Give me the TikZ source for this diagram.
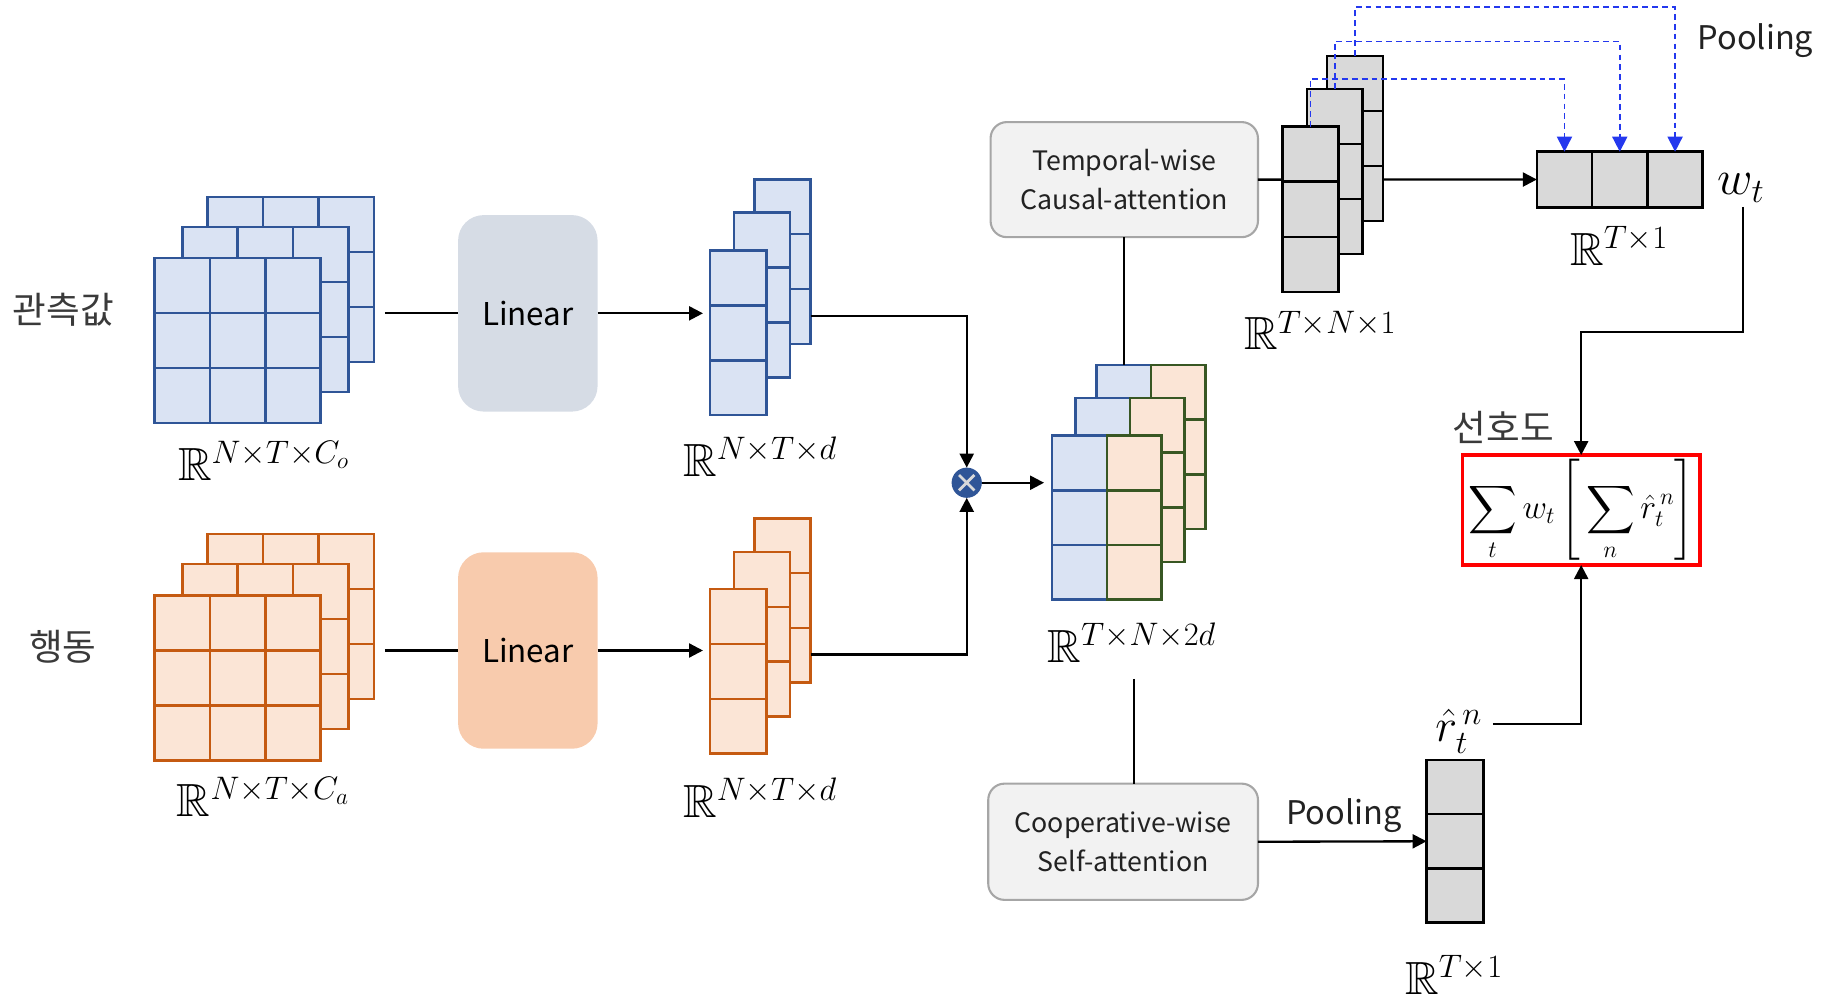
\RequirePackage{fix-cm}
\documentclass[tikz,border=0pt]{standalone}
\usepackage{amsmath,amssymb}
\usepackage{fontspec}
\newfontfamily\kr{Noto Sans CJK KR}
\usetikzlibrary{arrows.meta,calc}

\definecolor{bstroke}{HTML}{2F5597}
\definecolor{bfill}{HTML}{DAE3F3}
\definecolor{ostroke}{HTML}{C55A11}
\definecolor{ofill}{HTML}{FBE5D6}
\definecolor{gstroke}{HTML}{385723}
\definecolor{cellgray}{HTML}{D9D9D9}
\definecolor{linblue}{HTML}{D6DCE5}
\definecolor{linorange}{HTML}{F8CBAD}
\definecolor{attfill}{HTML}{F2F2F2}
\definecolor{attline}{HTML}{A6A6A6}
\definecolor{poolblue}{HTML}{2438EE}
\definecolor{txt}{HTML}{222222}
\definecolor{krtxt}{HTML}{3A3A3A}

% one layer of a tensor drawn as a grid of cells:
% name, stroke, fill, cx, cy, width, height, columns, rows
\newcommand{\stacklayer}[9]{%
  \node[layer, draw=#2, fill=#3, minimum width=#6pt, minimum height=#7pt] (#1) at (#4,#5) {};
  \foreach \k in {1,...,#8}{\ifnum\k<#8\relax
    \draw[cellline, draw=#2] ($(#1.north west)!\k/#8!(#1.north east)$) -- ($(#1.south west)!\k/#8!(#1.south east)$);\fi}
  \foreach \k in {1,...,#9}{\ifnum\k<#9\relax
    \draw[cellline, draw=#2] ($(#1.north west)!\k/#9!(#1.south west)$) -- ($(#1.north east)!\k/#9!(#1.south east)$);\fi}
}

\begin{document}
\begin{tikzpicture}[x=1pt,y=-1pt,
  layer/.style={rectangle, inner sep=0pt, outer sep=0pt, line width=2.2pt},
  cellline/.style={line width=2.2pt},
  wire/.style={line width=2pt, draw=black},
  arrow/.style={wire, -{Triangle[length=12pt,width=12pt]}},
  dashwire/.style={draw=poolblue, line width=1.4pt, dash pattern=on 5pt off 3.5pt,
    -{Triangle[length=13pt,width=13pt]}},
  linbox/.style={rectangle, rounded corners=22pt, minimum width=120pt, minimum height=169pt,
    inner sep=0pt, outer sep=0pt, text=black, font=\kr\fontsize{27}{32}\selectfont},
  attbox/.style={rectangle, draw=attline, fill=attfill, line width=1.8pt, rounded corners=14pt,
    minimum width=230pt, minimum height=99pt, inner sep=0pt, outer sep=0pt, align=center,
    text=txt, font=\kr\fontsize{23}{33}\selectfont},
  mathlbl/.style={anchor=base west, inner sep=0pt, text=black, font=\fontsize{40}{48}\selectfont},
  krlbl/.style={inner sep=0pt, text=krtxt, font=\kr\fontsize{31.5}{36}\selectfont},
  poollbl/.style={anchor=base west, inner sep=0pt, text=txt, font=\kr\fontsize{28}{34}\selectfont}
]
\useasboundingbox (0,0) rectangle (1568,855);

% ---------- inputs ----------
\node[krlbl] (obslbl) at (54.5,266.5) {관측값};
\node[krlbl] (actlbl) at (54,556) {행동};

\stacklayer{obsB}{bstroke}{bfill}{250}{240.5}{143}{142}{3}{3}
\stacklayer{obsM}{bstroke}{bfill}{228.3}{266.3}{143}{142}{3}{3}
\stacklayer{obsF}{bstroke}{bfill}{204.3}{293}{143}{142}{3}{3}
\node[mathlbl] (obsdim) at (153,413) {$\mathbb{R}^{N\times T\times C_o}$};

\stacklayer{actB}{ostroke}{ofill}{250}{530.4}{143}{142}{3}{3}
\stacklayer{actM}{ostroke}{ofill}{228.3}{556}{143}{142}{3}{3}
\stacklayer{actF}{ostroke}{ofill}{204.3}{583}{143}{142}{3}{3}
\node[mathlbl] (actdim) at (152,702.5) {$\mathbb{R}^{N\times T\times C_a}$};

% ---------- linear projections ----------
\node[linbox, fill=linblue] (lin1) at (454,269.5) {Linear};
\node[linbox, fill=linorange] (lin2) at (454,559.5) {Linear};

\stacklayer{dB}{bstroke}{bfill}{673}{225}{48.5}{141.5}{1}{3}
\stacklayer{dM}{bstroke}{bfill}{655.4}{253.7}{48.5}{141.5}{1}{3}
\stacklayer{dF}{bstroke}{bfill}{634.9}{286.3}{48.5}{141.5}{1}{3}
\node[mathlbl] (ddim1) at (587.6,410) {$\mathbb{R}^{N\times T\times d}$};

\stacklayer{eB}{ostroke}{ofill}{673}{516.5}{48.5}{141.5}{1}{3}
\stacklayer{eM}{ostroke}{ofill}{655.4}{545.5}{48.5}{141.5}{1}{3}
\stacklayer{eF}{ostroke}{ofill}{634.9}{577.5}{48.5}{141.5}{1}{3}
\node[mathlbl] (ddim2) at (587.6,703) {$\mathbb{R}^{N\times T\times d}$};

\coordinate (obsout) at (331,269.5);
\coordinate (actout) at (331,559.5);
\draw[wire] (obsout) -- (lin1.west);
\draw[wire] (actout) -- (lin2.west);
\draw[arrow, shorten >=6pt] (lin1.east) -- (lin1.east -| dF.west);
\draw[arrow, shorten >=6pt] (lin2.east) -- (lin2.east -| eF.west);

% ---------- concatenation ----------
\node[circle, fill=bstroke, minimum size=26pt, inner sep=0pt, outer sep=0pt] (mul) at (831.5,415.2) {};
\draw[draw=cellgray, line width=2.4pt]
  ($(mul.center)!0.72!(mul.north west)$) -- ($(mul.center)!0.72!(mul.south east)$)
  ($(mul.center)!0.72!(mul.north east)$) -- ($(mul.center)!0.72!(mul.south west)$);

\coordinate (dout) at (697.3,271.8);
\coordinate (eout) at (697.3,563);
\draw[arrow] (dout) -| (mul.north);
\draw[arrow] (eout) -| (mul.south);

\stacklayer{catBb}{bstroke}{bfill}{966.5}{384.5}{47}{141}{1}{3}
\stacklayer{catBo}{gstroke}{ofill}{1013.5}{384.5}{47}{141}{1}{3}
\stacklayer{catMb}{bstroke}{bfill}{948.5}{412.8}{47}{141}{1}{3}
\stacklayer{catMo}{gstroke}{ofill}{995.5}{412.8}{47}{141}{1}{3}
\stacklayer{catFb}{bstroke}{bfill}{928.5}{445.2}{47}{141}{1}{3}
\stacklayer{catFo}{gstroke}{ofill}{975.5}{445.2}{47}{141}{1}{3}
\node[mathlbl] (catdim) at (900.8,570) {$\mathbb{R}^{T\times N\times 2d}$};

\draw[arrow, shorten >=7pt] (mul.east) -- (mul.east -| catFb.west);

% ---------- temporal branch ----------
\node[attbox] (temporal) at (967,154.5) {Temporal-wise\\Causal-attention};
\node[layer, draw=black, fill=cellgray, minimum width=142.7pt, minimum height=47.8pt] (pool) at (1393.2,154.4) {};
\draw[arrow] (temporal.east) -- (pool.west);
\draw[wire] (temporal.south) -- (temporal.south |- catBb.north);

\stacklayer{gB}{black}{cellgray}{1165.5}{119}{48}{142}{1}{3}
\stacklayer{gM}{black}{cellgray}{1148}{147.6}{48}{142}{1}{3}
\stacklayer{gF}{black}{cellgray}{1127.2}{180}{48}{142}{1}{3}
\node[mathlbl] (gdim) at (1070,301) {$\mathbb{R}^{T\times N\times 1}$};

% pooled weights
\stacklayer{pool}{black}{cellgray}{1393.2}{154.4}{142.7}{47.8}{3}{1}
\node[mathlbl] (pooldim) at (1350.4,228) {$\mathbb{R}^{T\times 1}$};
\node[poollbl] (poolTop) at (1460,43) {Pooling};
\node[mathlbl, font=\fontsize{42}{48}\selectfont] (wt) at (1477,167.7) {$w_t$};

\draw[dashwire] (gF.north) -- ++(0,-41) -| ($(pool.north west)!1/6!(pool.north east)$);
\draw[dashwire] (gM.north) -- ++(0,-41) -| ($(pool.north west)!1/2!(pool.north east)$);
\draw[dashwire] (gB.north) -- ++(0,-41.9) -| ($(pool.north west)!5/6!(pool.north east)$);

% ---------- cooperative branch ----------
\node[attbox, minimum width=232pt, minimum height=100pt] (coop) at (966,724) {Cooperative-wise\\Self-attention};
\coordinate (catlow) at (975.4,584);
\draw[wire] (catlow) -- (catlow |- coop.north);

\stacklayer{rcol}{black}{cellgray}{1251.5}{723.6}{49}{140}{1}{3}
\node[mathlbl] (rdim) at (1208.5,855) {$\mathbb{R}^{T\times 1}$};
\node[poollbl] (poolBot) at (1106,708.8) {Pooling};
\draw[arrow] (coop.east) -- (rcol.west);
\node[mathlbl] (rhat) at (1234.3,638) {$\hat{r}_t^{\,n}$};

% ---------- preference score ----------
\node[rectangle, draw=red, line width=3pt, minimum width=204pt, minimum height=94.6pt,
  inner sep=0pt, outer sep=0pt, font=\fontsize{29}{36}\selectfont] (sum) at (1360,438.7)
  {$\displaystyle\sum_t w_t\left[\vphantom{\sum_n^n}\sum_n \hat{r}_t^{\,n}\right]$};
\node[krlbl] (preflbl) at (1293,368) {선호도};

\coordinate (wtout) at (1499,178);
\coordinate (rhatout) at (1284,623);
\draw[arrow] (wtout) -- ++(0,107.5) -| (sum.north);
\draw[arrow] (rhatout) -| (sum.south);
\end{tikzpicture}
\end{document}
